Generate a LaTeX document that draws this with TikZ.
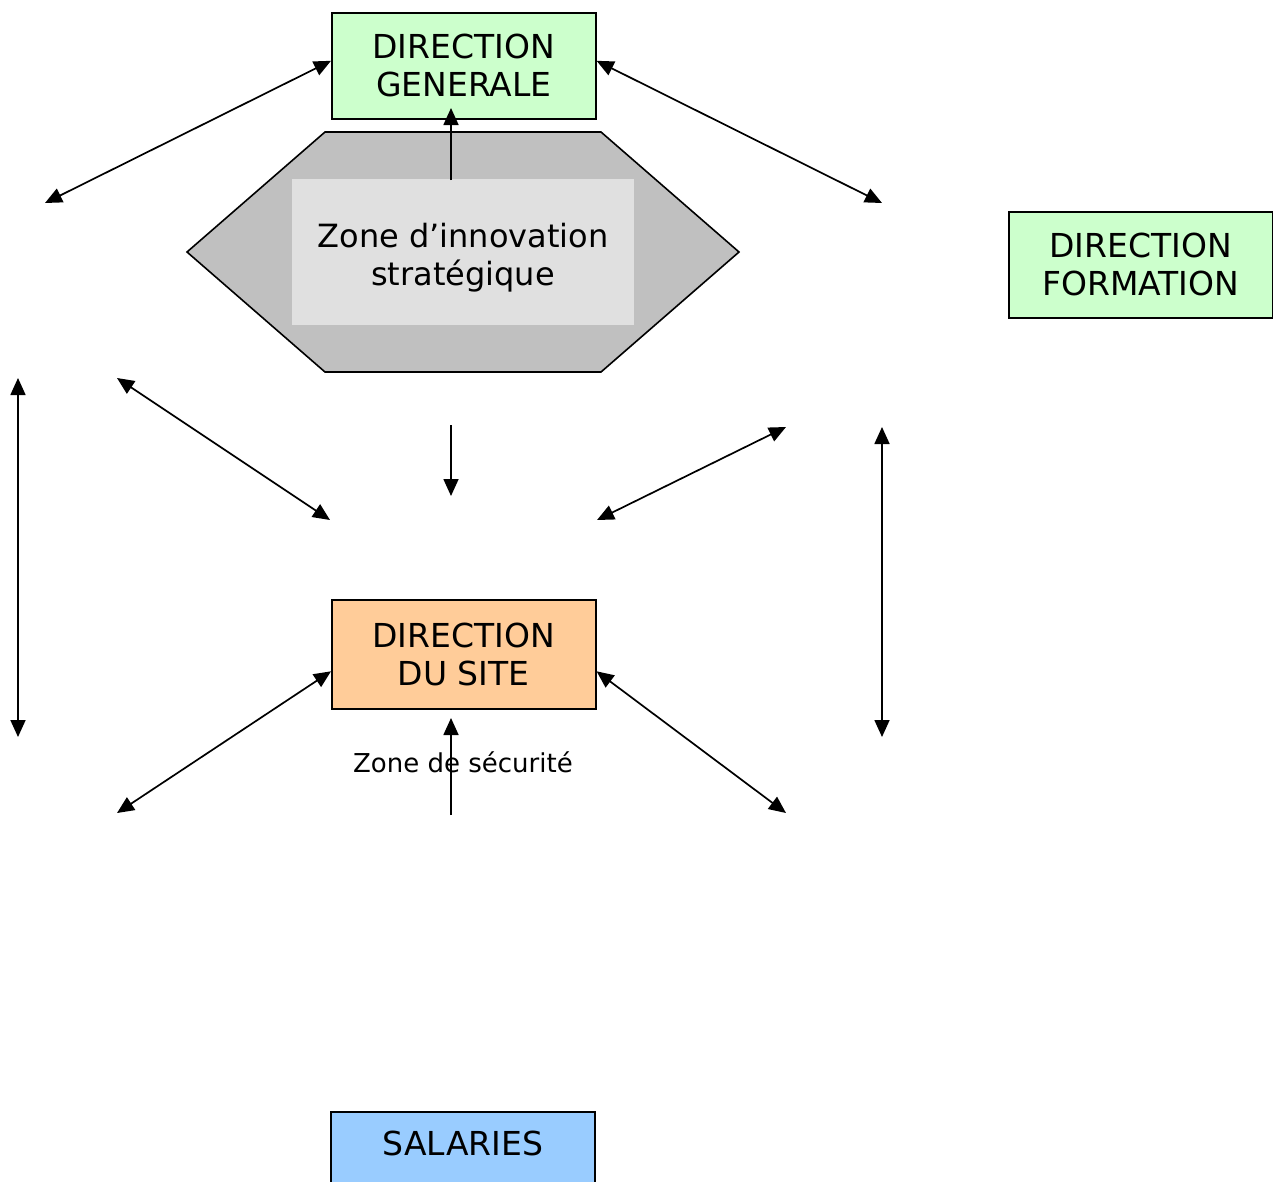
\documentclass[tikz,border=0pt]{standalone}
\usepackage{fontspec}
\setmainfont{DejaVu Sans}
\usetikzlibrary{arrows.meta}
\definecolor{dgreen}{HTML}{CCFFCC}
\definecolor{dorange}{HTML}{FFCC99}
\definecolor{dblue}{HTML}{99CCFF}
\definecolor{hexgray}{HTML}{C0C0C0}
\definecolor{innergray}{HTML}{E0E0E0}
\begin{document}
\begin{tikzpicture}[x=1pt,y=-1pt,
  box/.style={draw=black,line width=1.6pt,minimum width=264pt,inner sep=0pt,align=center,font=\fontsize{33}{38}\selectfont,anchor=north west},
  conn/.style={line width=1.7pt,-{Triangle[length=17pt,width=15pt]}},
  biconn/.style={line width=1.7pt,{Triangle[length=17pt,width=15pt]}-{Triangle[length=17pt,width=15pt]}}]
\useasboundingbox (0,0) rectangle (1273,1181);
\fill[white] (0,0) rectangle (1273,1181);
% hexagon
\draw[fill=hexgray,line width=1.6pt] (187,252) -- (325,132) -- (601,132) -- (739,252) -- (601,372) -- (325,372) -- cycle;
\node[fill=innergray,minimum width=342pt,minimum height=146pt,anchor=north west,inner sep=0pt] (inner) at (292,179) {};
\node[align=center,font=\fontsize{32}{38}\selectfont] (zis) at (463,258) {Zone d’innovation\\strat\'egique};
% boxes
\node[box,fill=dgreen,minimum height=106pt] (dg) at (331,12) {DIRECTION\\GENERALE};
\node[box,fill=dgreen,minimum height=106pt] (df) at (1008,211) {DIRECTION\\FORMATION};
\node[box,fill=dorange,minimum height=109pt] (ds) at (331,599) {DIRECTION\\DU SITE};
\begin{scope}
\clip (0,0) rectangle (1273,1181);
\draw[fill=dblue,line width=1.6pt] (331,1112) rectangle (595,1200);
\end{scope}
\node[font=\fontsize{33}{38}\selectfont] (sal) at (463,1143) {SALARIES};
\node[font=\fontsize{26}{31}\selectfont] (zs) at (463,762) {Zone de s\'ecurit\'e};
% free ends
\coordinate (a1) at (45,203);
\coordinate (a2) at (882,203);
\coordinate (b1) at (451,180);
\coordinate (c1) at (451,425);
\coordinate (c2) at (451,496);
\coordinate (d1) at (117,378);
\coordinate (d2) at (330,520);
\coordinate (e1) at (786,427);
\coordinate (e2) at (597,520);
\coordinate (f1) at (18,378);
\coordinate (f2) at (18,737);
\coordinate (g1) at (882,427);
\coordinate (g2) at (882,737);
\coordinate (h1) at (117,813);
\coordinate (i1) at (786,813);
\coordinate (j1) at (451,815);
\coordinate (j2) at (451,718);
\coordinate (b2) at (451,108);
% connectors
\draw[biconn] (a1) -- ([yshift=5pt]dg.west);
\draw[biconn] (a2) -- ([yshift=5pt]dg.east);
\draw[conn] (b1) -- (b2);
\draw[conn] (c1) -- (c2);
\draw[biconn] (d1) -- (d2);
\draw[biconn] (e1) -- (e2);
\draw[biconn] (f1) -- (f2);
\draw[biconn] (g1) -- (g2);
\draw[biconn] (h1) -- ([yshift=-17pt]ds.west);
\draw[biconn] (i1) -- ([yshift=-17pt]ds.east);
\draw[conn] (j1) -- (j2);
\end{tikzpicture}
\end{document}
